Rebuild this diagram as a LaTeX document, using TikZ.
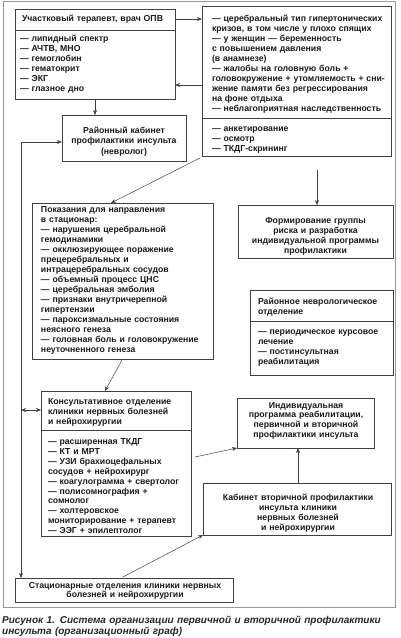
\documentclass[tikz,border=0pt]{standalone}
\usepackage{fontspec}
\setmainfont{Liberation Sans}
\usetikzlibrary{calc,arrows.meta}
\begin{document}
\begin{tikzpicture}[x=1pt,y=-1pt,
  frame/.style={draw=black!40,line width=0.6pt},
  box/.style={draw=black!75,line width=0.6pt,inner sep=0pt,outer sep=0pt,anchor=north west},
  divider/.style={draw=black!75,line width=0.6pt},
  txt/.style={inner sep=0pt,outer sep=0pt,font=\fontsize{8.7}{10}\selectfont\bfseries,text=black!90,align=left,anchor=base west,text width=#1},
  txt/.default=190pt,
  ctxt/.style={inner sep=0pt,outer sep=0pt,font=\fontsize{8.7}{10}\selectfont\bfseries,text=black!90,align=center,anchor=base,text width=#1},
  conn/.style={draw=black!75,line width=0.5pt,-{Stealth[length=5pt,width=4pt]}},
  dconn/.style={draw=black!75,line width=0.5pt,{Stealth[length=5pt,width=4pt]}-{Stealth[length=5pt,width=4pt]}},
  captxt/.style={inner sep=0pt,font=\fontsize{10}{11}\selectfont\bfseries\itshape,text=black!85,align=left,anchor=base west,text width=400pt}
]
\useasboundingbox (0,0) rectangle (400,638);
\path[frame] (3,1.5) rectangle (395,607);

% boxes
\node[box,minimum width=160pt,minimum height=90pt] (b1) at (15,9) {};
\node[box,minimum width=189pt,minimum height=150pt] (b2) at (202,6) {};
\node[box,minimum width=124pt,minimum height=46pt] (b3) at (62,115) {};
\node[box,minimum width=155pt,minimum height=53pt] (b4) at (238,205) {};
\node[box,minimum width=181pt,minimum height=156pt] (b5) at (32,203) {};
\node[box,minimum width=143pt,minimum height=85pt] (b6) at (250,290) {};
\node[box,minimum width=150pt,minimum height=145pt] (b7) at (41,391) {};
\node[box,minimum width=137pt,minimum height=50pt] (b8) at (237,398) {};
\node[box,minimum width=188pt,minimum height=52pt] (b9) at (203,483) {};
\node[box,minimum width=218pt,minimum height=24pt] (b10) at (15,578) {};

% dividers
\draw[divider] (15,30) -- (175,30);
\draw[divider] (202,118) -- (391,118);
\draw[divider] (250,321) -- (393,321);
\draw[divider] (41,430) -- (191,430);

% texts
\node[txt] (t1a) at (22,21) {Участковый терапевт, врач ОПВ};
\node[txt] (t1b) at (20,41) {— липидный спектр\\— АЧТВ, МНО\\— гемоглобин\\— гематокрит\\— ЭКГ\\— глазное дно};
\node[txt,font=\fontsize{8.7}{10.1}\selectfont\bfseries] (t2a) at (212,21) {— церебральный тип гипертонических\\кризов, в том числе у плохо спящих\\— у женщин — беременность\\с повышением давления\\(в анамнезе)\\— жалобы на головную боль +\\головокружение + утомляемость + сни-\\жение памяти без регрессирования\\на фоне отдыха\\— неблагоприятная наследственность};
\node[txt] (t2b) at (212,131) {— анкетирование\\— осмотр\\— ТКДГ-скрининг};
\node[ctxt=124pt,font=\fontsize{8.7}{10.8}\selectfont\bfseries] (t3) at (124,133) {Районный кабинет\\профилактики инсульта\\(невролог)};
\node[ctxt=155pt] (t4) at (315.5,223) {Формирование группы\\риска и разработка\\индивидуальной программы\\профилактики};
\node[txt] (t5) at (41,212) {Показания для направления\\в стационар:\\— нарушения церебральной\\гемодинамики\\— окклюзирующее поражение\\прецеребральных и\\интрацеребральных сосудов\\— объемный процесс ЦНС\\— церебральная эмболия\\— признаки внутричерепной\\гипертензии\\— пароксизмальные состояния\\неясного генеза\\— головная боль и головокружение\\неуточненного генеза};
\node[txt,font=\fontsize{8.7}{9.5}\selectfont\bfseries] (t6a) at (258,304.5) {Районное неврологическое\\отделение};
\node[txt] (t6b) at (258,334.5) {— периодическое курсовое\\лечение\\— постинсультная\\реабилитация};
\node[txt] (t7a) at (48,404.5) {Консультативное отделение\\клиники нервных болезней\\и нейрохирургии};
\node[txt,font=\fontsize{8.7}{9.9}\selectfont\bfseries] (t7b) at (48,444.5) {— расширенная ТКДГ\\— КТ и МРТ\\— УЗИ брахиоцефальных\\сосудов + нейрохирург\\— коагулограмма + свертолог\\— полисомнография +\\сомнолог\\— холтеровское\\мониторирование + терапевт\\— ЭЭГ + эпилептолог};
\node[ctxt=137pt,font=\fontsize{8.7}{9.7}\selectfont\bfseries] (t8) at (306,408) {Индивидуальная\\программа реабилитации,\\первичной и вторичной\\профилактики инсульта};
\node[ctxt=188pt] (t9) at (298,500) {Кабинет вторичной профилактики\\инсульта клиники\\нервных болезней\\и нейрохирургии};
\node[ctxt=218pt,font=\fontsize{8.7}{9}\selectfont\bfseries] (t10) at (125,588) {Стационарные отделения клиники нервных\\болезней и нейрохирургии};
\node[captxt] (cap) at (2,623.5) {Рисунок 1. Система организации первичной и вторичной профилактики\\инсульта (организационный граф)};

% connectors
\coordinate (lc) at (21,142);
\coordinate (c7) at (317,170);
\coordinate (c9) at (195,457);
\draw[conn] ($(b1.north east)+(0,10)$) -- ($(b1.north east)+(27,10)$);
\draw[conn] ($(b2.north west)+(0,79)$) -- ($(b2.north west)+(-27,79)$);
\draw[conn] ($(b1.south west)+(80,0)$) -- ($(b3.north west)+(33,0)$);
\draw[dconn] ($(b3.north west)+(0,27)$) -- (lc) -- (lc |- b10.north);
\draw[dconn] (21,410) -- (b7.west |- 0,410);
\draw[conn] ($(b2.south west)+(-2,2)$) -- ($(b5.north west)+(79,0)$);
\draw[conn] (c7) -- (c7 |- b4.north);
\draw[conn] ($(b5.south west)+(90,1)$) -- ($(b7.north west)+(64,0)$);
\draw[conn] (c9) -- (b8.south west);
\draw[conn] ($(b9.north west)+(95,0)$) -- ($(b8.south west)+(61,0)$);
\draw[conn] ($(b10.north west)+(108,-1)$) -- (b9.south west);
\end{tikzpicture}
\end{document}
